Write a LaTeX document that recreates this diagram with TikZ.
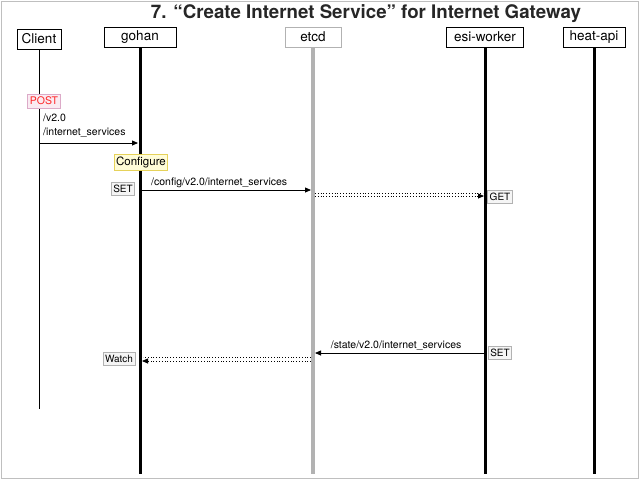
\documentclass[tikz,border=0pt]{standalone}
\usepackage{fontspec}
\setmainfont{TeX Gyre Heros}
\usetikzlibrary{arrows.meta}
\definecolor{cfgborder}{RGB}{230,210,90}
\definecolor{cfgfill}{RGB}{255,252,215}
\definecolor{postborder}{RGB}{220,170,200}
\definecolor{postfill}{RGB}{250,235,242}
\begin{document}
\begin{tikzpicture}
        [x=1pt, y=-1pt,
        actor/.style={draw, thick, minimum height=20pt, inner sep=1pt, font=\fontsize{13.5}{13.5}\selectfont},
        life/.style={line width=3pt, black},
        msg/.style={-{Triangle[length=6pt, width=5pt]}, thick},
        tag/.style={draw=gray!60, fill=gray!8, thick, minimum height=13pt, inner sep=2pt, font=\fontsize{10}{10}\selectfont},
        label/.style={font=\fontsize{10.5}{10.5}\selectfont, inner sep=1pt},
        watch/.style={dotted, thick}]

        % frame and bounding box
        \useasboundingbox (0,0) rectangle (640,480);
        \draw[gray!50, line width=1.5pt] (1.5,1.5) rectangle (638.5,478.5);

        \node[font=\fontsize{18.7}{18.7}\selectfont\bfseries, color=black!85] (title) at (366,14) {7. “Create Internet Service” for Internet Gateway};

        % actors
        \node[actor, minimum width=44pt] (client) at (39,39) {Client};
        \node[actor, minimum width=72pt] (gohan) at (140,37) {gohan};
        \node[actor, minimum width=56pt, draw=gray!60] (etcd) at (313,37) {etcd};
        \node[actor, minimum width=77pt] (esi) at (485,37) {esi-worker};
        \node[actor, minimum width=62pt] (heat) at (594,37) {heat-api};

        % lifelines
        \coordinate (client-end) at (39,409);
        \coordinate (gohan-end) at (140,474);
        \coordinate (etcd-end) at (313,474);
        \coordinate (esi-end) at (485,474);
        \coordinate (heat-end) at (594,474);

        \draw[thick] (client) -- (client-end);
        \draw[life] (gohan) -- (gohan-end);
        \draw[life, gray!60, line width=4.5pt] (etcd) -- (etcd-end);
        \draw[life] (esi) -- (esi-end);
        \draw[life] (heat) -- (heat-end);

        % POST from client
        \node[draw=postborder, fill=postfill, text=red!85, thick, inner sep=2pt, minimum height=14pt,
              font=\fontsize{10.5}{10.5}\selectfont] (post) at (44,101) {POST};
        \node[label, anchor=west] (path1) at (42,118) {/v2.0};
        \node[label, anchor=west] (path2) at (42,133) {/internet\_services};
        \coordinate (p-start) at (39,143);
        \coordinate (p-end) at (138,143);
        \draw[msg] (p-start) -- (p-end);

        \node[draw=cfgborder, fill=cfgfill, thick, inner sep=2pt, minimum height=16pt,
              font=\fontsize{11.5}{11.5}\selectfont] (configure) at (141,162) {Configure};

        % SET on etcd
        \node[tag] (set1) at (123,189) {SET};
        \coordinate (c-start) at (141,190);
        \coordinate (c-end) at (311,190);
        \draw[msg] (c-start) -- (c-end) node[label, pos=0.46, above=1pt] {/config/v2.0/internet\_services};

        % esi-worker gets it
        \coordinate (g-start1) at (315,193);
        \coordinate (g-end1) at (483,193);
        \coordinate (g-start2) at (315,196);
        \coordinate (g-end2) at (484,196);
        \draw[watch] (g-start1) -- (g-end1);
        \draw[watch, -{Triangle[length=6pt, width=5pt]}] (g-start2) -- (g-end2);
        \node[tag] (get) at (500,197) {GET};

        % state back
        \node[tag] (set2) at (500,353) {SET};
        \coordinate (s-start) at (484,353);
        \coordinate (s-end) at (315,353);
        \draw[msg] (s-start) -- (s-end) node[label, pos=0.52, above=1pt] {/state/v2.0/internet\_services};

        % gohan watches
        \node[tag] (watch) at (119,359) {Watch};
        \coordinate (w-start1) at (311,357);
        \coordinate (w-end1) at (143,357);
        \coordinate (w-start2) at (311,361);
        \coordinate (w-end2) at (142,361);
        \draw[watch] (w-start1) -- (w-end1);
        \draw[watch, -{Triangle[length=6pt, width=5pt]}] (w-start2) -- (w-end2);
    \end{tikzpicture}
\end{document}
